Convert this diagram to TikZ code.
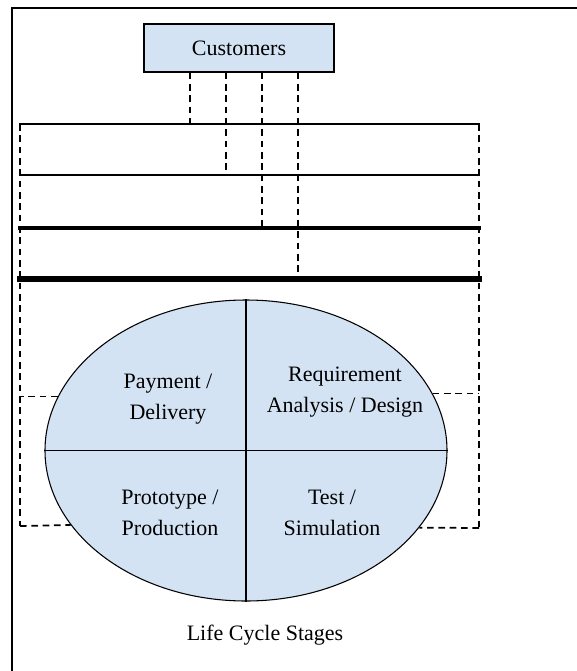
\documentclass[tikz,border=0pt]{standalone}
\usepackage{fontspec}
\setmainfont{Liberation Serif}
\usetikzlibrary{shapes.geometric}

\definecolor{stageblue}{RGB}{212,227,243}

\tikzset{
  every node/.style={font=\fontsize{16.5}{23.25}\selectfont, inner sep=0pt},
  link/.style={dash pattern=on 5pt off 3.5pt, line width=1.3pt},
  layer/.style={line cap=rect}
}

\begin{document}
\begin{tikzpicture}[x=0.75pt, y=-0.75pt]
			\useasboundingbox (0,0) rectangle (577,671);

			% Draw the outer frame
			\draw[line width=1.5pt] (11.5,671) -- (11.5,8) -- (577,8);

			% Draw the customers box
			\node[draw, fill=stageblue, line width=0.8pt, minimum width=142.5pt, minimum height=36pt] (cust) at (239,48) {Customers};

			% Layer ends
			\coordinate (L1w) at (20,124);  \coordinate (L1e) at (479,124);
			\coordinate (L2w) at (20,175);  \coordinate (L2e) at (479,175);
			\coordinate (L3w) at (20,228);  \coordinate (L3e) at (479,228);
			\coordinate (L4w) at (20,279);  \coordinate (L4e) at (479,279);
			\coordinate (Lbw) at (20,526);  \coordinate (Lbe) at (479,528);

			% Draw the dashed links from the customers box
			\draw[link] (cust.south -| 190,0) -- (L1w -| 190,0);
			\draw[link] (cust.south -| 226,0) -- (L2w -| 226,0);
			\draw[link] (cust.south -| 262,0) -- (L3w -| 262,0);
			\draw[link] (cust.south -| 298,0) -- (L4w -| 298,0);

			% Draw the side links
			\draw[link] (L1w) -- (Lbw);
			\draw[link] (L1e) -- (Lbe);

			% Draw the layer lines
			\draw[layer, line width=1.2pt] (L1w) -- (L1e);
			\draw[layer, line width=1.9pt] (L2w) -- (L2e);
			\draw[layer, line width=2.8pt] (L3w) -- (L3e);
			\draw[layer, line width=3.8pt] (L4w) -- (L4e);

			% Draw the life cycle ellipse
			\node[draw, ellipse, fill=stageblue, line width=0.8pt, minimum width=301.5pt, minimum height=225.75pt] (cycle) at (246,450.5) {};
			\draw[line width=0.8pt] (cycle.north) -- (cycle.south);
			\draw[line width=0.8pt] (cycle.west) -- (cycle.east);

			\node[align=center] (pay) at (168,399) {Payment /\\Delivery};
			\node[align=center] (req) at (345,392.5) {Requirement\\Analysis / Design};
			\node[align=center] (proto) at (170,512.5) {Prototype /\\Production};
			\node[align=center] (test) at (332,512.5) {Test /\\Simulation};

			% Draw the links into the ellipse
			\draw[link] (cycle.164) -- (cycle.164 -| L1w);
			\draw[link] (Lbw) -- (cycle.203.5);
			\draw[link] (cycle.17) -- (cycle.17 -| L1e);
			\draw[link] (Lbe) -- (cycle.336);

			\node (title) at (265,635) {Life Cycle Stages};

		\end{tikzpicture}
\end{document}
